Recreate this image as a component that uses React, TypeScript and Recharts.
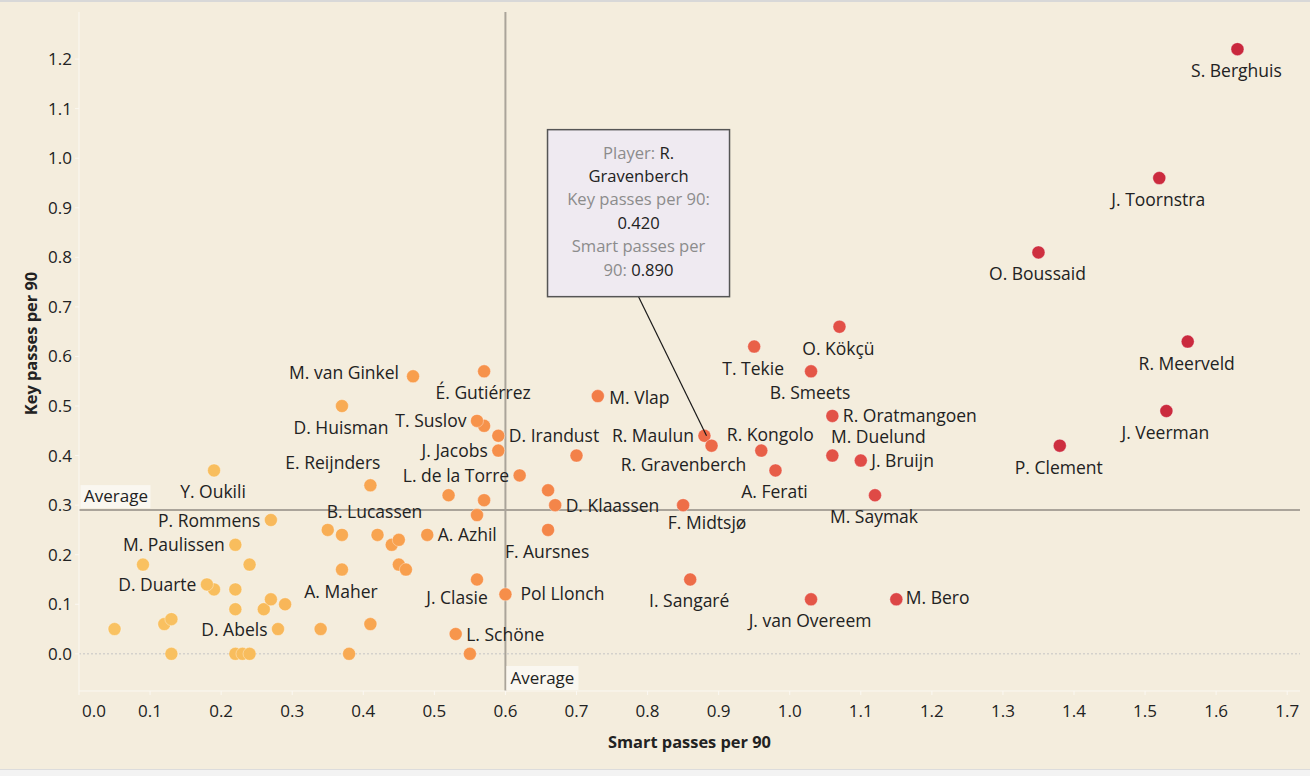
import { ScatterChart, Scatter, XAxis, YAxis, ReferenceLine, ReferenceDot } from 'recharts'

// players with a visible name label
const players = [
  'S. Berghuis', 'J. Toornstra', 'O. Boussaid', 'R. Meerveld', 'J. Veerman', 'P. Clement',
  'O. Kökçü', 'T. Tekie', 'B. Smeets', 'R. Oratmangoen', 'M. Duelund', 'J. Bruijn',
  'R. Kongolo', 'A. Ferati', 'R. Maulun', 'R. Gravenberch', 'F. Midtsjø', 'M. Saymak',
  'M. Vlap', 'I. Sangaré', 'J. van Overeem', 'M. Bero', 'D. Klaassen', 'F. Aursnes',
  'D. Irandust', 'J. Jacobs', 'T. Suslov', 'É. Gutiérrez', 'M. van Ginkel', 'D. Huisman',
  'L. de la Torre', 'E. Reijnders', 'B. Lucassen', 'A. Azhil', 'A. Maher', 'J. Clasie',
  'Pol Llonch', 'L. Schöne', 'Y. Oukili', 'P. Rommens', 'M. Paulissen', 'D. Duarte', 'D. Abels',
]
const smartPasses = [
  1.63, 1.52, 1.35, 1.56, 1.53, 1.38,
  1.07, 0.95, 1.03, 1.06, 1.06, 1.1,
  0.96, 0.98, 0.88, 0.89, 0.85, 1.12,
  0.73, 0.86, 1.03, 1.15, 0.67, 0.66,
  0.59, 0.59, 0.56, 0.57, 0.47, 0.37,
  0.62, 0.41, 0.42, 0.49, 0.37, 0.56,
  0.6, 0.53, 0.19, 0.27, 0.22, 0.18, 0.28,
]
const keyPasses = [
  1.22, 0.96, 0.81, 0.63, 0.49, 0.42,
  0.66, 0.62, 0.57, 0.48, 0.4, 0.39,
  0.41, 0.37, 0.44, 0.42, 0.3, 0.32,
  0.52, 0.15, 0.11, 0.11, 0.3, 0.25,
  0.44, 0.41, 0.47, 0.57, 0.56, 0.5,
  0.36, 0.34, 0.24, 0.24, 0.17, 0.15,
  0.12, 0.04, 0.37, 0.27, 0.22, 0.14, 0.05,
]

// players without a label
const otherSmart = [
  0.57, 0.7, 0.66, 0.52, 0.57, 0.56, 0.35, 0.37, 0.44, 0.45, 0.45, 0.46, 0.41, 0.38, 0.34, 0.55,
  0.09, 0.24, 0.19, 0.22, 0.22, 0.26, 0.27, 0.29, 0.05, 0.12, 0.13, 0.13, 0.22, 0.23, 0.24,
]
const otherKey = [
  0.46, 0.4, 0.33, 0.32, 0.31, 0.28, 0.25, 0.24, 0.22, 0.23, 0.18, 0.17, 0.06, 0.0, 0.05, 0.0,
  0.18, 0.18, 0.13, 0.13, 0.09, 0.09, 0.11, 0.1, 0.05, 0.06, 0.07, 0.0, 0.0, 0.0, 0.0,
]

const xTicks = [0, 0.1, 0.2, 0.3, 0.4, 0.5, 0.6, 0.7, 0.8, 0.9, 1.0, 1.1, 1.2, 1.3, 1.4, 1.5, 1.6, 1.7]
const yTicks = [0, 0.1, 0.2, 0.3, 0.4, 0.5, 0.6, 0.7, 0.8, 0.9, 1.0, 1.1, 1.2]
const avgSmart = 0.6
const avgKey = 0.29
const highlighted = 'R. Gravenberch'

const labelled = players.map((name, i) => ({ name, x: smartPasses[i], y: keyPasses[i] }))
const others = otherSmart.map((x, i) => ({ name: '', x, y: otherKey[i] }))
const allPoints = [...others, ...labelled]
const focus = labelled.find((p) => p.name === highlighted)!

const BG = '#F4EDDD'
const AXIS = '#FBF8F2'
const TEXT = '#222222'
const FONT = "'Open Sans', sans-serif"

// colour ramp along smart passes (yellow -> crimson)
const ramp: [number, number[]][] = [
  [0.0, [249, 196, 100]],
  [0.25, [248, 188, 92]],
  [0.45, [248, 160, 78]],
  [0.6, [246, 142, 74]],
  [0.75, [241, 122, 72]],
  [0.9, [236, 104, 72]],
  [1.1, [224, 76, 71]],
  [1.35, [206, 48, 64]],
  [1.7, [200, 38, 60]],
]
const colorFor = (v: number) => {
  for (let i = 1; i < ramp.length; i++) {
    if (v <= ramp[i][0]) {
      const [a, ca] = ramp[i - 1]
      const [b, cb] = ramp[i]
      const t = (v - a) / (b - a)
      const c = ca.map((k, j) => Math.round(k + (cb[j] - k) * t))
      return `rgb(${c[0]},${c[1]},${c[2]})`
    }
  }
  const c = ramp[ramp.length - 1][1]
  return `rgb(${c[0]},${c[1]},${c[2]})`
}

type Place = [number, number, 'start' | 'middle' | 'end']
const BELOW: Place = [-1, 28, 'middle']
const RIGHT: Place = [10.5, 6.5, 'start']
const LEFT: Place = [-10.5, 6.5, 'end']
const labelPlace: Record<string, Place> = {
  'R. Oratmangoen': RIGHT,
  'M. Duelund': [46, -13, 'middle'],
  'J. Bruijn': RIGHT,
  'R. Kongolo': [9, -10, 'middle'],
  'R. Maulun': LEFT,
  'R. Gravenberch': [-28, 25, 'middle'],
  'F. Midtsjø': [24, 24, 'middle'],
  'M. Vlap': [11.5, 7.5, 'start'],
  'M. Bero': [9.5, 5, 'start'],
  'D. Klaassen': RIGHT,
  'D. Irandust': RIGHT,
  'J. Jacobs': LEFT,
  'T. Suslov': LEFT,
  'M. van Ginkel': [-14, 3, 'end'],
  'L. de la Torre': LEFT,
  'E. Reijnders': [-37.5, -16, 'middle'],
  'B. Lucassen': [-3, -17, 'middle'],
  'A. Azhil': RIGHT,
  'J. Clasie': [-20, 25, 'middle'],
  'Pol Llonch': [15, 5.5, 'start'],
  'L. Schöne': RIGHT,
  'P. Rommens': LEFT,
  'M. Paulissen': LEFT,
  'D. Duarte': LEFT,
  'D. Abels': LEFT,
}

const Dot = ({ cx, cy, payload }: any) => (
  <circle cx={cx} cy={cy} r={6.5} fill={colorFor(payload.x)} stroke="rgba(255,255,255,0.35)" strokeWidth={1} />
)

const NameLabel = ({ cx, cy, payload }: any) => {
  if (!payload.name) return <g />
  const [dx, dy, anchor] = labelPlace[payload.name] || BELOW
  return (
    <text x={cx + dx} y={cy + dy} textAnchor={anchor} fontSize={17.5} fill={TEXT}>
      {payload.name}
    </text>
  )
}

const XTick = ({ x, y, payload }: any) => {
  const first = payload.value === 0
  return (
    <text x={first ? x + 3 : x} y={y + 20} textAnchor={first ? 'start' : 'middle'} fontSize={17} fill={TEXT}>
      {payload.value.toFixed(1)}
    </text>
  )
}

const XTitle = ({ viewBox }: any) => (
  <text x={viewBox.x + viewBox.width / 2} y={viewBox.y + viewBox.height - 20} textAnchor="middle" fontSize={16.4} fontWeight={700} fill={TEXT}>
    Smart passes per 90
  </text>
)

const YTitle = ({ viewBox }: any) => {
  const x = viewBox.x + 37
  const y = viewBox.y + viewBox.height / 2 - 8
  return (
    <text x={x} y={y} transform={`rotate(-90 ${x} ${y})`} textAnchor="middle" fontSize={16.4} fontWeight={700} fill={TEXT}>
      Key passes per 90
    </text>
  )
}

const AvgLabelLeft = ({ cx, cy }: any) => (
  <g>
    <rect x={cx + 1.5} y={cy - 25} width={70} height={23} fill="#FAF7F0" />
    <text x={cx + 5} y={cy - 8} fontSize={17} fill={TEXT}>Average</text>
  </g>
)

const AvgLabelBottom = ({ cx, cy }: any) => (
  <g>
    <rect x={cx + 1} y={cy - 25} width={72} height={24} fill="#FAF7F0" />
    <text x={cx + 5} y={cy - 7} fontSize={17} fill={TEXT}>Average</text>
  </g>
)

const Annotation = ({ cx, cy }: any) => {
  const bx = cx - 164
  const by = cy - 316
  const w = 182
  const h = 167
  const mid = bx + w / 2
  const gray = '#8C8C8C'
  const lines: { t: string; c: string }[][] = [
    [{ t: 'Player: ', c: gray }, { t: 'R.', c: TEXT }],
    [{ t: 'Gravenberch', c: TEXT }],
    [{ t: 'Key passes per 90:', c: gray }],
    [{ t: focus.y.toFixed(3), c: TEXT }],
    [{ t: 'Smart passes per', c: gray }],
    [{ t: '90: ', c: gray }, { t: focus.x.toFixed(3), c: TEXT }],
  ]
  return (
    <g>
      <line x1={mid} y1={by + h} x2={cx - 5} y2={cy - 10} stroke="#1A1A1A" strokeWidth={1.2} />
      <rect x={bx} y={by} width={w} height={h} fill="#EFEAF1" stroke="#555555" strokeWidth={1.5} />
      {lines.map((ln, i) => (
        <text key={i} x={mid} y={by + 29 + i * 23.4} textAnchor="middle" fontSize={16.6} style={{ whiteSpace: 'pre' }}>
          {ln.map((s, j) => (
            <tspan key={j} fill={s.c}>{s.t}</tspan>
          ))}
        </text>
      ))}
    </g>
  )
}

export default function App() {
  return (
    <div style={{ position: 'relative', width: 1310, height: 776, background: '#F3F3F3', fontFamily: FONT }}>
      <style>{'body{margin:0}'}</style>
      <div
        style={{
          position: 'absolute', left: 0, top: 0, width: 1310, height: 770, background: BG,
          borderTop: '2px solid #D8D8D8', borderBottom: '1px solid #DCDCDC', boxSizing: 'border-box',
        }}
      />
      <div style={{ position: 'absolute', left: 0, top: 0 }}>
        <ScatterChart width={1310} height={768} margin={{ top: 12, right: 10, bottom: 0, left: 0 }}>
          <XAxis
            type="number" dataKey="x" domain={[0, 1.718]} ticks={xTicks} interval={0} height={77}
            allowDataOverflow stroke={AXIS} tickLine={{ stroke: AXIS }} tickSize={4} tickMargin={2}
            tick={(p: any) => <XTick {...p} />} label={<XTitle />}
          />
          <YAxis
            type="number" dataKey="y" domain={[-0.075, 1.295]} ticks={yTicks} interval={0} width={79}
            allowDataOverflow stroke={AXIS} tickLine={{ stroke: AXIS }} tickSize={4} tickMargin={3}
            tick={{ fontSize: 17, fill: TEXT }} tickFormatter={(v: number) => v.toFixed(1)} label={<YTitle />}
          />
          <ReferenceLine y={0} stroke="#C4C4C4" strokeDasharray="2 2" strokeWidth={1} />
          <ReferenceLine x={avgSmart} stroke="#AAA49A" strokeWidth={2} />
          <ReferenceLine y={avgKey} stroke="#AAA49A" strokeWidth={2} />
          <Scatter data={allPoints} isAnimationActive={false} shape={(p: any) => <Dot {...p} />} />
          <Scatter data={allPoints} isAnimationActive={false} shape={(p: any) => <NameLabel {...p} />} />
          <ReferenceDot x={0} y={avgKey} r={0} shape={(p: any) => <AvgLabelLeft {...p} />} />
          <ReferenceDot x={avgSmart} y={-0.075} r={0} shape={(p: any) => <AvgLabelBottom {...p} />} />
          <ReferenceDot x={focus.x} y={focus.y} r={0} shape={(p: any) => <Annotation {...p} />} />
        </ScatterChart>
      </div>
    </div>
  )
}
